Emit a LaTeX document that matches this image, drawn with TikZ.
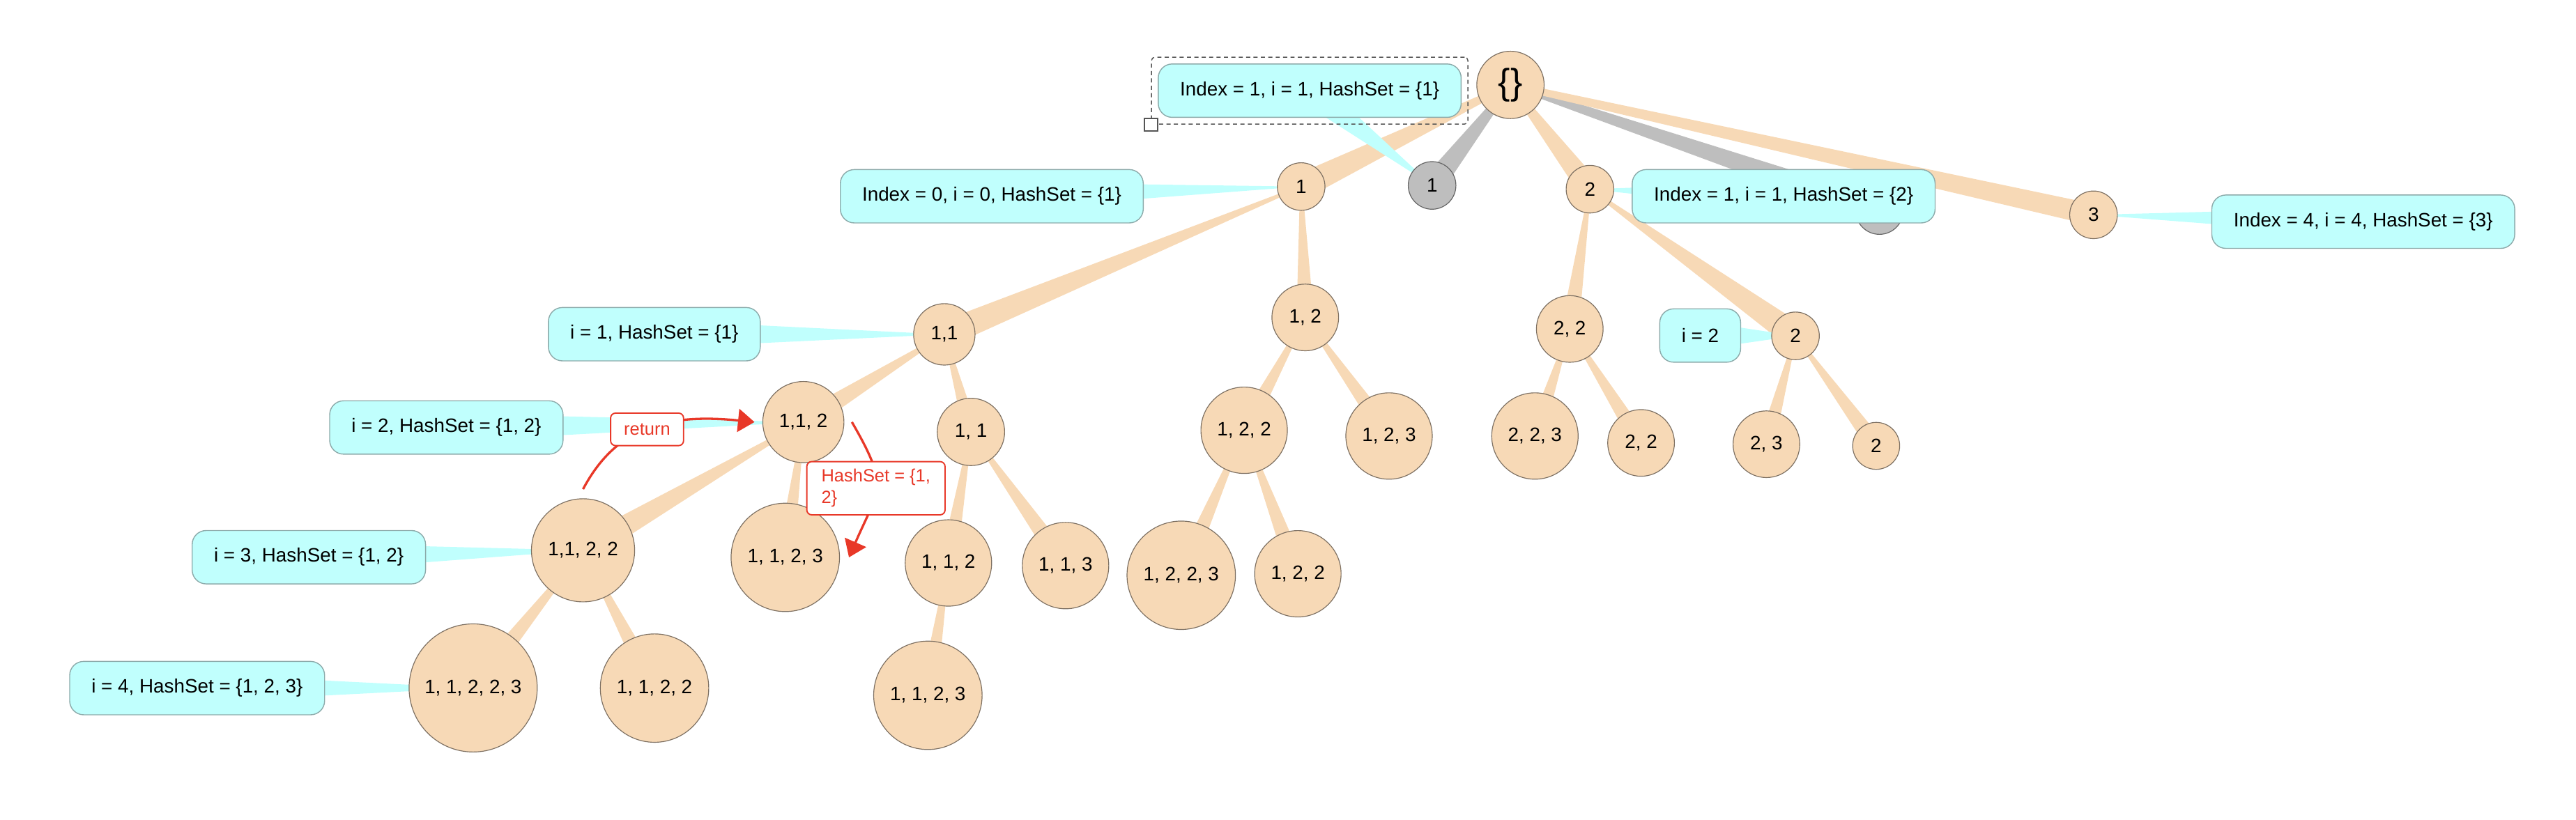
\documentclass[tikz,border=0pt]{standalone}
\usepackage{fontspec}
\setmainfont{Liberation Sans}
\usetikzlibrary{calc,arrows.meta,fit,backgrounds}

\definecolor{orfill}{RGB}{247,217,182}
\definecolor{orline}{RGB}{125,112,98}
\definecolor{cyfill}{RGB}{192,255,253}
\definecolor{cyline}{RGB}{140,170,170}
\definecolor{gyfill}{RGB}{190,190,190}
\definecolor{gyline}{RGB}{100,100,100}
\definecolor{redc}{RGB}{232,56,40}
\definecolor{selc}{RGB}{85,85,85}

% tapered branch: parent, child, half-width at parent, half-width at child, style
\newcommand\mybranch[5]{\fill[#5] ($(#1.center)!#3!90:(#2.center)$) -- ($(#2.center)!#4!-90:(#1.center)$) -- ($(#2.center)!#4!90:(#1.center)$) -- ($(#1.center)!#3!-90:(#2.center)$) -- cycle;}
% callout wedge from a box to a node
\newcommand\mycallout[2]{\fill[cyfill] ($(#1.center)!8.5pt!90:(#2.center)$) -- (#2.center) -- ($(#1.center)!8.5pt!-90:(#2.center)$) -- cycle;}

\tikzset{
  txt/.style={font=\fontsize{11.8}{14}\selectfont},
  onode/.style={circle, fill=orfill, draw=orline, line width=0.5pt, inner sep=0pt, minimum size=#1, txt},
  gnode/.style={circle, fill=gyfill, draw=gyline, line width=0.5pt, inner sep=0pt, minimum size=#1, txt},
  cbox/.style={rectangle, rounded corners=8.5pt, fill=cyfill, draw=cyline, line width=0.6pt, minimum height=32.5pt, inner xsep=13.3pt, inner ysep=0pt, txt},
  obr/.style={fill=orfill},
  gbr/.style={fill=gyfill},
  redarrow/.style={draw=redc, line width=1.4pt, -{Triangle[length=10pt,width=14pt]}},
  rlabel/.style={rectangle, rounded corners=3pt, draw=redc, fill=white, line width=0.8pt, text=redc, font=\fontsize{10.8}{13.2}\selectfont},
}

\begin{document}
\begin{tikzpicture}[x=1pt,y=-1pt]
\useasboundingbox (0,0) rectangle (1568,499);

% ---- mind map nodes ----
\node[onode=41pt, font=\fontsize{22}{26}\selectfont] (R) at (919.4,51.7) {\{\}};
\node[onode=29pt] (A) at (792,113.6) {1};
\node[gnode=29pt] (G1) at (871.7,112.9) {1};
\node[onode=29pt] (B) at (967.8,115.2) {2};
\node[gnode=29pt] (G2) at (1144,128.2) {};
\node[onode=29pt] (C) at (1274.3,130.8) {3};

\node[onode=37.4pt] (AA) at (574.8,203.6) {1,1};
\node[onode=40.6pt] (AB) at (794.5,193.3) {1, 2};
\node[onode=40.6pt] (BA) at (955.5,200.3) {2, 2};
\node[onode=29pt] (BB) at (1092.9,204.5) {2};

\node[onode=49.4pt] (AAA) at (489,257) {1,1, 2};
\node[onode=41pt] (AAB) at (591,263) {1, 1};
\node[onode=52.6pt] (ABA) at (757.3,262) {1, 2, 2};
\node[onode=52.6pt] (ABB) at (845.5,265.5) {1, 2, 3};
\node[onode=52.6pt] (BAA) at (934.3,265.5) {2, 2, 3};
\node[onode=40.6pt] (BAB) at (998.9,269.7) {2, 2};
\node[onode=40.6pt] (BBA) at (1075.2,270.5) {2, 3};
\node[onode=28.6pt] (BBB) at (1142,271.5) {2};

\node[onode=62.8pt] (AAAA) at (354.9,335.1) {1,1, 2, 2};
\node[onode=66pt] (AAAB) at (478,339.4) {1, 1, 2, 3};
\node[onode=52.6pt] (AABA) at (577.3,342.8) {1, 1, 2};
\node[onode=52.6pt] (AABB) at (648.6,344.4) {1, 1, 3};
\node[onode=66pt] (ABAA) at (719,350.3) {1, 2, 2, 3};
\node[onode=52.6pt] (ABAB) at (790,349.4) {1, 2, 2};

\node[onode=78pt] (AAAAA) at (288,418.9) {1, 1, 2, 2, 3};
\node[onode=66pt] (AAAAB) at (398.4,419) {1, 1, 2, 2};
\node[onode=66pt] (AABAA) at (564.8,423.4) {1, 1, 2, 3};

% ---- note boxes ----
\node[cbox] (T1) at (797.2,55.2) {Index = 1, i = 1, HashSet = \{1\}};
\node[cbox] (T0) at (603.7,119.5) {Index = 0, i = 0, HashSet = \{1\}};
\node[cbox] (T2) at (1085.7,119.5) {Index = 1, i = 1, HashSet = \{2\}};
\node[cbox] (T3) at (1438.5,135) {Index = 4, i = 4, HashSet = \{3\}};
\node[cbox] (T4) at (398.3,203.5) {i = 1, HashSet = \{1\}};
\node[cbox] (T5) at (271.7,260.3) {i = 2, HashSet = \{1, 2\}};
\node[cbox] (T6) at (188,339.3) {i = 3, HashSet = \{1, 2\}};
\node[cbox] (T7) at (120,419) {i = 4, HashSet = \{1, 2, 3\}};
\node[cbox] (T8) at (1034.9,204.3) {i = 2};

% ---- selection frame ----
\node[fit=(T1), inner sep=3.8pt, draw=selc, dash pattern=on 2.5pt off 2pt, rounded corners=2pt, line width=0.6pt] (SEL) {};
\node[draw=selc, fill=white, line width=0.8pt, minimum size=7.8pt, inner sep=0pt] (HND) at (SEL.south west) {};

% ---- branches and callouts (behind) ----
\begin{scope}[on background layer]
\mybranch{R}{A}{1.5pt}{7.8pt}{obr}
\mybranch{R}{G1}{1.5pt}{7pt}{gbr}
\mybranch{R}{B}{1.5pt}{7pt}{obr}
\mybranch{R}{G2}{1.5pt}{7.5pt}{gbr}
\mybranch{R}{C}{1.9pt}{6.5pt}{obr}
\mybranch{A}{AA}{0.7pt}{8pt}{obr}
\mybranch{A}{AB}{0.7pt}{5.3pt}{obr}
\mybranch{B}{BA}{0.7pt}{5.5pt}{obr}
\mybranch{B}{BB}{0.7pt}{8pt}{obr}
\mybranch{AA}{AAA}{0.7pt}{6.3pt}{obr}
\mybranch{AA}{AAB}{0.7pt}{4.5pt}{obr}
\mybranch{AB}{ABA}{0.7pt}{5.3pt}{obr}
\mybranch{AB}{ABB}{0.7pt}{5.5pt}{obr}
\mybranch{BA}{BAA}{0.7pt}{5pt}{obr}
\mybranch{BA}{BAB}{0.7pt}{5.3pt}{obr}
\mybranch{BB}{BBA}{0.7pt}{5pt}{obr}
\mybranch{BB}{BBB}{0.7pt}{5.3pt}{obr}
\mybranch{AAA}{AAAA}{0.7pt}{7.7pt}{obr}
\mybranch{AAA}{AAAB}{0.7pt}{5.2pt}{obr}
\mybranch{AAB}{AABA}{0.7pt}{5.2pt}{obr}
\mybranch{AAB}{AABB}{0.7pt}{6pt}{obr}
\mybranch{ABA}{ABAA}{0.7pt}{5.8pt}{obr}
\mybranch{ABA}{ABAB}{0.7pt}{5.7pt}{obr}
\mybranch{AAAA}{AAAAA}{0.7pt}{6.3pt}{obr}
\mybranch{AAAA}{AAAAB}{0.7pt}{5.8pt}{obr}
\mybranch{AABA}{AABAA}{0.7pt}{5.3pt}{obr}

\mycallout{T1}{G1}
\mycallout{T0}{A}
\mycallout{T2}{B}
\mycallout{T3}{C}
\mycallout{T4}{AA}
\mycallout{T5}{AAA}
\mycallout{T6}{AAAA}
\mycallout{T7}{AAAAA}
\mycallout{T8}{BB}
\end{scope}

% ---- red annotated arrows ----
\draw[redarrow] ([yshift=5.6pt]AAAA.north) .. controls +(19.7,-37.1) and +(-54.9,-5.5) .. ([xshift=-4.8pt]AAA.west)
  node[rlabel, pos=0.5, inner xsep=8.1pt, inner ysep=0pt, minimum height=19.8pt] (L1) {return};
\draw[redarrow] ([xshift=4.6pt]AAA.east) .. controls +(23,39.8) and +(18.4,-42.2) .. ([xshift=5.5pt]AAAB.east)
  node[rlabel, pos=0.5, inner xsep=8.9pt, inner ysep=2pt, minimum height=32.4pt, align=left] (L2) {HashSet = \{1,\\2\}};
\end{tikzpicture}
\end{document}
